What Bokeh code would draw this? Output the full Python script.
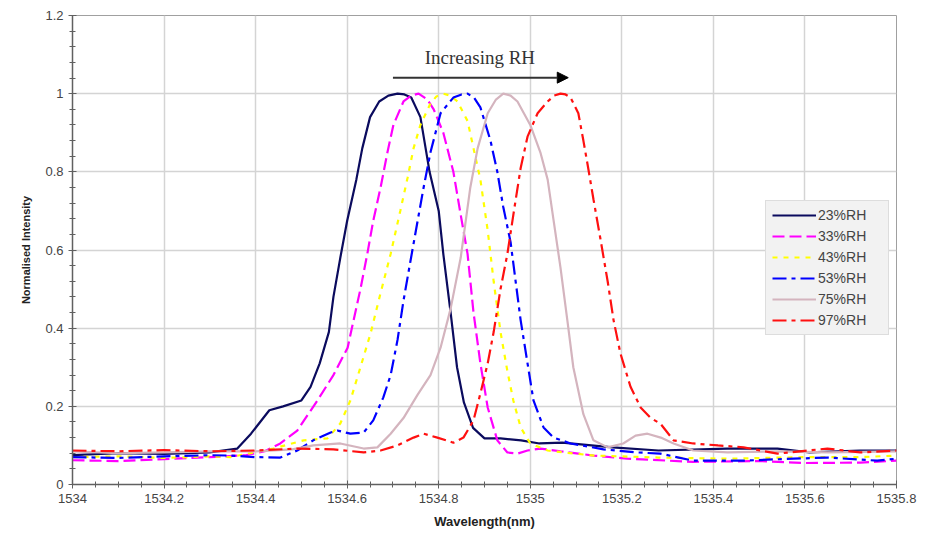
from bokeh.plotting import figure
from bokeh.models import (FixedTicker, Legend, LegendItem, Label, Arrow, NormalHead)
from bokeh.embed import file_html
from bokeh.resources import INLINE

# ---- data (wavelength nm, normalised intensity) ----
x23 = [1534.00, 1534.10, 1534.20, 1534.30, 1534.36, 1534.39, 1534.43, 1534.46, 1534.50, 1534.52,
       1534.54, 1534.56, 1534.57, 1534.585, 1534.60, 1534.62, 1534.633, 1534.65, 1534.67, 1534.69,
       1534.71, 1534.725, 1534.74, 1534.76, 1534.78, 1534.80, 1534.81, 1534.826, 1534.84, 1534.855,
       1534.875, 1534.90, 1534.935, 1534.98, 1535.02, 1535.07, 1535.18, 1535.28, 1535.43, 1535.54,
       1535.61, 1535.72, 1535.80]
y23 = [0.075, 0.08, 0.078, 0.082, 0.092, 0.13, 0.19, 0.20, 0.215, 0.25,
       0.31, 0.39, 0.48, 0.58, 0.675, 0.78, 0.86, 0.94, 0.98, 0.995,
       1.0, 0.998, 0.99, 0.94, 0.80, 0.70, 0.59, 0.44, 0.30, 0.21,
       0.145, 0.118, 0.118, 0.113, 0.105, 0.107, 0.095, 0.087, 0.092, 0.092,
       0.082, 0.087, 0.087]

x33 = [1534.00, 1534.10, 1534.20, 1534.30, 1534.38, 1534.42, 1534.454, 1534.491, 1534.535, 1534.57,
       1534.601, 1534.614, 1534.629, 1534.644, 1534.657, 1534.673, 1534.688, 1534.701, 1534.723, 1534.74,
       1534.756, 1534.775, 1534.789, 1534.81, 1534.832, 1534.848, 1534.863, 1534.876, 1534.891, 1534.907,
       1534.928, 1534.95, 1534.972, 1534.994, 1535.022, 1535.066, 1535.138, 1535.212, 1535.356, 1535.50,
       1535.60, 1535.721, 1535.80]
y33 = [0.062, 0.06, 0.065, 0.07, 0.075, 0.085, 0.105, 0.138, 0.215, 0.28,
       0.35, 0.42, 0.50, 0.59, 0.675, 0.76, 0.85, 0.92, 0.98, 0.995,
       1.0, 0.985, 0.96, 0.90, 0.80, 0.69, 0.59, 0.44, 0.31, 0.197,
       0.113, 0.082, 0.079, 0.087, 0.092, 0.085, 0.074, 0.066, 0.058, 0.06,
       0.055, 0.056, 0.061]

x43 = [1534.00, 1534.10, 1534.20, 1534.30, 1534.345, 1534.439, 1534.505, 1534.557, 1534.585, 1534.607,
       1534.629, 1534.651, 1534.673, 1534.695, 1534.716, 1534.732, 1534.745, 1534.76, 1534.782, 1534.795,
       1534.81, 1534.825, 1534.841, 1534.863, 1534.876, 1534.891, 1534.907, 1534.92, 1534.935, 1534.95,
       1534.963, 1534.979, 1535.00, 1535.038, 1535.073, 1535.14, 1535.28, 1535.43, 1535.60, 1535.72,
       1535.80]
y43 = [0.07, 0.072, 0.068, 0.072, 0.07, 0.092, 0.113, 0.118, 0.156, 0.215,
       0.30, 0.386, 0.49, 0.59, 0.70, 0.785, 0.86, 0.92, 0.975, 0.993,
       1.0, 0.995, 0.98, 0.93, 0.86, 0.78, 0.65, 0.52, 0.39, 0.29,
       0.215, 0.146, 0.105, 0.087, 0.082, 0.074, 0.069, 0.066, 0.07, 0.07,
       0.074]

x53 = [1534.00, 1534.10, 1534.20, 1534.30, 1534.345, 1534.40, 1534.454, 1534.491, 1534.526, 1534.564,
       1534.579, 1534.607, 1534.636, 1534.657, 1534.679, 1534.695, 1534.71, 1534.723, 1534.738, 1534.754,
       1534.767, 1534.782, 1534.804, 1534.832, 1534.85, 1534.863, 1534.877, 1534.891, 1534.913, 1534.928,
       1534.941, 1534.957, 1534.968, 1534.979, 1534.994, 1535.007, 1535.029, 1535.051, 1535.088, 1535.16,
       1535.234, 1535.284, 1535.356, 1535.466, 1535.55, 1535.649, 1535.758, 1535.80]
y53 = [0.07, 0.068, 0.072, 0.075, 0.074, 0.07, 0.069, 0.087, 0.113, 0.133,
       0.138, 0.13, 0.133, 0.164, 0.223, 0.28, 0.37, 0.47, 0.57, 0.675,
       0.76, 0.85, 0.95, 0.99, 0.998, 1.0, 0.99, 0.965, 0.88, 0.80,
       0.71, 0.62, 0.52, 0.42, 0.31, 0.215, 0.146, 0.12, 0.105, 0.09,
       0.082, 0.079, 0.061, 0.061, 0.065, 0.069, 0.061, 0.066]

x75 = [1534.00, 1534.10, 1534.20, 1534.30, 1534.40, 1534.48, 1534.526, 1534.585, 1534.636, 1534.666,
       1534.695, 1534.723, 1534.754, 1534.782, 1534.804, 1534.826, 1534.848, 1534.869, 1534.885, 1534.907,
       1534.925, 1534.941, 1534.957, 1534.972, 1535.00, 1535.022, 1535.038, 1535.051, 1535.066, 1535.081,
       1535.094, 1535.116, 1535.138, 1535.169, 1535.203, 1535.23, 1535.256, 1535.285, 1535.313, 1535.356,
       1535.431, 1535.55, 1535.65, 1535.80]
y75 = [0.085, 0.08, 0.082, 0.085, 0.085, 0.09, 0.10, 0.105, 0.092, 0.095,
       0.13, 0.17, 0.23, 0.28, 0.35, 0.45, 0.58, 0.76, 0.86, 0.95,
       0.985, 1.0, 0.995, 0.98, 0.92, 0.85, 0.78, 0.675, 0.555, 0.42,
       0.30, 0.18, 0.113, 0.095, 0.105, 0.125, 0.13, 0.12, 0.105, 0.087,
       0.082, 0.085, 0.082, 0.085]

x97 = [1534.00, 1534.10, 1534.20, 1534.30, 1534.40, 1534.491, 1534.57, 1534.636, 1534.673, 1534.71,
       1534.745, 1534.767, 1534.797, 1534.832, 1534.854, 1534.876, 1534.891, 1534.907, 1534.92, 1534.935,
       1534.95, 1534.963, 1534.979, 1534.994, 1535.016, 1535.038, 1535.052, 1535.066, 1535.077, 1535.088,
       1535.105, 1535.116, 1535.125, 1535.138, 1535.153, 1535.169, 1535.182, 1535.197, 1535.219, 1535.241,
       1535.263, 1535.284, 1535.313, 1535.356, 1535.41, 1535.466, 1535.54, 1535.649, 1535.721, 1535.80]
y97 = [0.087, 0.085, 0.088, 0.085, 0.087, 0.092, 0.09, 0.082, 0.087, 0.10,
       0.12, 0.13, 0.12, 0.107, 0.12, 0.164, 0.233, 0.31, 0.39, 0.50,
       0.59, 0.69, 0.81, 0.89, 0.95, 0.98, 0.995, 1.0, 0.998, 0.99,
       0.95, 0.88, 0.82, 0.73, 0.63, 0.52, 0.42, 0.335, 0.25, 0.197,
       0.17, 0.156, 0.113, 0.105, 0.10, 0.095, 0.079, 0.092, 0.082, 0.087]

labels = ["23%RH", "33%RH", "43%RH", "53%RH", "75%RH", "97%RH"]
x_ticks = [1534.0, 1534.2, 1534.4, 1534.6, 1534.8, 1535.0, 1535.2, 1535.4, 1535.6, 1535.8]
x_tick_labels = ["1534", "1534.2", "1534.4", "1534.6", "1534.8", "1535", "1535.2", "1535.4", "1535.6", "1535.8"]
y_ticks = [0.0, 0.2, 0.4, 0.6, 0.8, 1.0, 1.2]
y_tick_labels = ["0", "0.2", "0.4", "0.6", "0.8", "1", "1.2"]
annot_text = "Increasing RH"
arrow_x = [1534.70, 1535.083]
arrow_y = 1.041
annot_pos = (1534.89, 1.065)

series = [(x23, y23), (x33, y33), (x43, y43), (x53, y53), (x75, y75), (x97, y97)]
colors = ["#0b0b5e", "#ff00ff", "#ffff00", "#0000ff", "#d4b4be", "#ff1010"]
dashes = ["solid", "12 5", "5 6", "14 5 4 5", "solid", "14 5 4 5"]

p = figure(width=920, height=535, x_range=(1534.0, 1535.8), y_range=(0, 1.2),
           output_backend="svg", toolbar_location=None,
           min_border_left=72, min_border_right=24, min_border_top=15, min_border_bottom=51)
p.background_fill_color = "white"
p.border_fill_color = "white"
p.outline_line_color = "#a0a0a0"
p.outline_line_width = 1

p.xaxis.ticker = FixedTicker(ticks=x_ticks,
                             minor_ticks=[round(1534 + 0.05 * i, 3) for i in range(37)])
p.xaxis.major_label_overrides = {t: l for t, l in zip(x_ticks, x_tick_labels)}
p.yaxis.ticker = FixedTicker(ticks=y_ticks,
                             minor_ticks=[round(0.04 * i, 3) for i in range(31)])
p.yaxis.major_label_overrides = {t: l for t, l in zip(y_ticks, y_tick_labels)}

for ax in (p.xaxis[0], p.yaxis[0]):
    ax.axis_line_color = "#606060"
    ax.axis_line_width = 1.5
    ax.major_tick_line_color = "#606060"
    ax.minor_tick_line_color = "#606060"
    ax.major_tick_in = 4
    ax.major_tick_out = 4
    ax.minor_tick_in = 3
    ax.minor_tick_out = 3
    ax.major_label_text_font = "Liberation Sans"
    ax.major_label_text_font_size = "13px"
    ax.major_label_text_color = "#444444"
    ax.axis_label_text_font = "Liberation Sans"
    ax.axis_label_text_font_style = "bold"
    ax.axis_label_text_color = "#222222"

p.xaxis.axis_label = "Wavelength(nm)"
p.xaxis.axis_label_text_font_size = "13px"
p.xaxis.axis_label_standoff = 8
p.yaxis.axis_label = "Normalised Intensity"
p.yaxis.axis_label_text_font_size = "11px"
p.yaxis.axis_label_standoff = 10

p.xgrid.grid_line_color = "#d4d4d4"
p.ygrid.grid_line_color = "#d4d4d4"
p.xgrid.grid_line_width = 1.5
p.ygrid.grid_line_width = 1.5

items = []
for (xs, ys), c, d, lab in zip(series, colors, dashes, labels):
    r = p.line(xs, ys, line_color=c, line_width=2.2, line_dash=d)
    items.append(LegendItem(label=lab, renderers=[r]))

legend = Legend(items=items, location=(693, 149))
legend.background_fill_color = "#f2f2f2"
legend.background_fill_alpha = 1
legend.border_line_color = "#c8c8c8"
legend.label_text_font = "Liberation Sans"
legend.label_text_font_size = "14px"
legend.label_text_color = "#444444"
legend.glyph_width = 44
legend.glyph_height = 14
legend.label_height = 14
legend.label_width = 64
legend.spacing = 5
legend.padding = 6
legend.margin = 0
legend.label_standoff = 2
p.add_layout(legend)

p.add_layout(Arrow(end=NormalHead(size=11, fill_color="black", line_color="black"),
                   x_start=arrow_x[0], y_start=arrow_y, x_end=arrow_x[1], y_end=arrow_y,
                   line_color="#333333", line_width=2))
p.add_layout(Label(x=annot_pos[0], y=annot_pos[1], text=annot_text, text_align="center",
                   text_font="Liberation Serif", text_font_size="19px", text_color="#333333"))

open("out.html", "w").write(file_html(p, INLINE))
